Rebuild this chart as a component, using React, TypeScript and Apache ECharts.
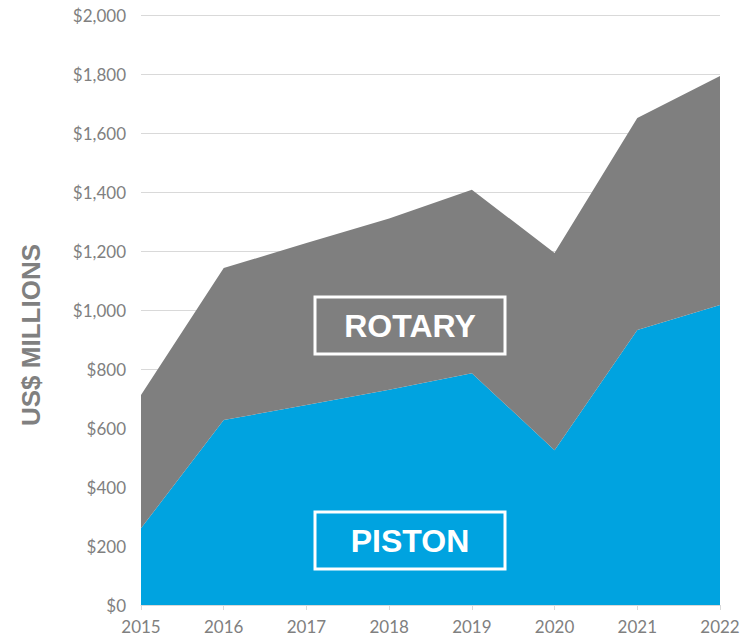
import React, { useEffect, useRef } from "react";
import * as echarts from "echarts";

const years = ["2015", "2016", "2017", "2018", "2019", "2020", "2021", "2022"];
const piston = [260, 627, 678, 730, 786, 525, 932, 1017];
const rotary = [452, 515, 549, 580, 622, 668, 719, 776];
const yTicks = { min: 0, max: 2000, interval: 200 };

const BLUE = "#00A3E0";
const GRAY = "#7F7F7F";
const LABEL = "#808080";

export default function App() {
  const ref = useRef<HTMLDivElement>(null);
  useEffect(() => {
    if (!ref.current) return;
    const chart = echarts.init(ref.current, undefined, { renderer: "svg" });
    chart.setOption({
      animation: false,
      grid: { left: 141, right: 33, top: 15, bottom: 35 },
      xAxis: {
        type: "category",
        data: years,
        boundaryGap: false,
        axisLine: { show: true, lineStyle: { color: "#D9D9D9", width: 1 } },
        axisTick: { show: true, alignWithLabel: true, length: 5, lineStyle: { color: "#D9D9D9" } },
        axisLabel: { color: LABEL, fontSize: 17, fontFamily: "Lato", margin: 13 },
      },
      yAxis: {
        type: "value",
        min: yTicks.min,
        max: yTicks.max,
        interval: yTicks.interval,
        axisLine: { show: false },
        axisTick: { show: false },
        splitLine: { lineStyle: { color: "#D9D9D9", width: 1 } },
        axisLabel: {
          color: LABEL,
          fontSize: 17,
          fontFamily: "Lato",
          margin: 15,
          formatter: (v: number) => "$" + v.toLocaleString("en-US"),
        },
      },
      series: [
        {
          name: "Piston",
          type: "line",
          stack: "total",
          data: piston,
          symbol: "none",
          lineStyle: { width: 0 },
          areaStyle: { color: BLUE, opacity: 1 },
          itemStyle: { color: BLUE },
        },
        {
          name: "Rotary",
          type: "line",
          stack: "total",
          data: rotary,
          symbol: "none",
          lineStyle: { width: 0 },
          areaStyle: { color: GRAY, opacity: 1 },
          itemStyle: { color: GRAY },
        },
      ],
      graphic: [
        {
          type: "text",
          z: 100,
          x: 31,
          y: 335,
          rotation: Math.PI / 2,
          style: {
            text: "US$ MILLIONS",
            fill: LABEL,
            font: "bold 26px 'Liberation Sans', Arial, sans-serif",
            align: "center",
            verticalAlign: "middle",
          },
        },
        {
          type: "rect",
          z: 100,
          shape: { x: 315, y: 297, width: 190, height: 57 },
          style: { fill: "none", stroke: "#FFFFFF", lineWidth: 3 },
        },
        {
          type: "text",
          z: 101,
          x: 410,
          y: 326,
          style: {
            text: "ROTARY",
            fill: "#FFFFFF",
            font: "bold 32px 'Liberation Sans', Arial, sans-serif",
            align: "center",
            verticalAlign: "middle",
          },
        },
        {
          type: "rect",
          z: 100,
          shape: { x: 315, y: 512, width: 190, height: 57 },
          style: { fill: "none", stroke: "#FFFFFF", lineWidth: 3 },
        },
        {
          type: "text",
          z: 101,
          x: 410,
          y: 541,
          style: {
            text: "PISTON",
            fill: "#FFFFFF",
            font: "bold 32px 'Liberation Sans', Arial, sans-serif",
            align: "center",
            verticalAlign: "middle",
          },
        },
      ],
    });
    return () => chart.dispose();
  }, []);
  return <div ref={ref} style={{ width: 753, height: 640, position: "absolute", left: 0, top: 0 }} />;
}
